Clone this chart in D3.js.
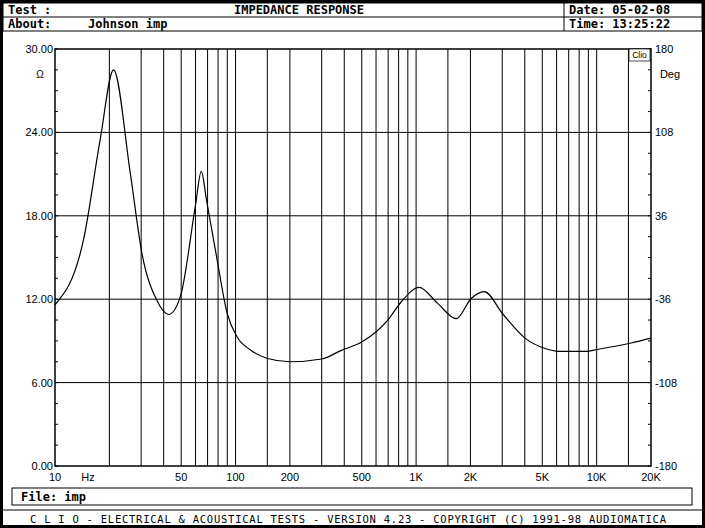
<!DOCTYPE html><html><head><meta charset="utf-8">
<script src="https://cdn.jsdelivr.net/npm/d3@7"></script>
<style>body{margin:0;background:#fff}</style></head><body>
<svg id="c" width="705" height="528"></svg>
<script>
const freq=[10,14.4,17.8,21.1,26.1,30.3,36.7,42.6,49.5,59.9,64.6,69.1,78.4,89.8,101.9,121,149,200,300,383,505,697,827,1039,1316,1668,2018,2380,3036,4010,5187,6160,8660,10200,15500,20000];
const ohm=[11.6,16.3,23.5,28.5,21.1,15.3,11.9,10.9,12.2,18.7,21.2,19.1,15.1,11.0,9.3,8.35,7.75,7.5,7.7,8.3,8.95,10.5,11.8,12.85,11.7,10.6,12.05,12.55,10.9,9.2,8.45,8.25,8.25,8.4,8.85,9.2];
const gridF=[20,30,40,50,60,70,80,90,100,150,200,300,400,500,600,700,800,900,1000,1500,2000,3000,4000,5000,6000,7000,8000,9000,10000,15000];
const xTicks=[[10,"10"],[50,"50"],[100,"100"],[200,"200"],[500,"500"],[1000,"1K"],[2000,"2K"],[5000,"5K"],[10000,"10K"],[20000,"20K"]];
const yTicks=[0,6,12,18,24,30];
const degTicks=[-180,-108,-36,36,108,180];
const svg=d3.select("#c");
const L=55,R=651,T=49,B=466;
const x=d3.scaleLog().domain([10,20000]).range([L,R]);
const y=d3.scaleLinear().domain([0,30]).range([B,T]);
const yd=d3.scaleLinear().domain([-180,180]).range([B,T]);
const mono="'DejaVu Sans Mono',monospace";
svg.append("rect").attr("x",1.5).attr("y",1.5).attr("width",702).attr("height",525).attr("fill","none").attr("stroke","#000").attr("stroke-width",3);
svg.append("rect").attr("x",3).attr("y",3).attr("width",699).attr("height",28).attr("fill","none").attr("stroke","#000");
svg.append("line").attr("x1",3).attr("x2",702).attr("y1",17).attr("y2",17).attr("stroke","#000");
svg.append("line").attr("x1",564).attr("x2",564).attr("y1",3).attr("y2",31).attr("stroke","#000");
svg.append("line").attr("x1",3).attr("x2",702).attr("y1",510).attr("y2",510).attr("stroke","#000");
svg.append("rect").attr("x",12).attr("y",488).attr("width",680).attr("height",17).attr("fill","none").attr("stroke","#000");
const t=(s,xx,yy,o={})=>svg.append("text").attr("x",xx).attr("y",yy).text(s).attr("font-family",o.f||mono).attr("font-size",o.s||12).attr("font-weight",o.w||"bold").attr("text-anchor",o.a||"start");
t("Test :",8,14);t("IMPEDANCE RESPONSE",299,14,{a:"middle"});t("Date: 05-02-08",569,14);
t("About:",8,28);t("Johnson imp",88,28);t("Time: 13:25:22",569,28);
t("File: imp",21,501);
t("C L I O  -  ELECTRICAL & ACOUSTICAL TESTS  -  VERSION 4.23  -  COPYRIGHT (C) 1991-98 AUDIOMATICA",30,523,{s:10.5,w:"normal"}).attr("textLength",636).attr("lengthAdjust","spacing");
gridF.forEach(f=>svg.append("line").attr("x1",x(f)).attr("x2",x(f)).attr("y1",T).attr("y2",B).attr("stroke","#000"));
yTicks.slice(1,5).forEach(v=>svg.append("line").attr("x1",L).attr("x2",R).attr("y1",y(v)).attr("y2",y(v)).attr("stroke","#000"));
svg.append("rect").attr("x",L).attr("y",T).attr("width",R-L).attr("height",B-T).attr("fill","none").attr("stroke","#000").attr("stroke-width",1.5);
d3.range(0,30.01,1.5).forEach(v=>{svg.append("line").attr("x1",L).attr("x2",L+3).attr("y1",y(v)).attr("y2",y(v)).attr("stroke","#000");
 svg.append("line").attr("x1",R-3).attr("x2",R).attr("y1",y(v)).attr("y2",y(v)).attr("stroke","#000");});
const sf="'Liberation Sans',Arial,sans-serif";
yTicks.forEach(v=>t(v.toFixed(2),L-2,y(v)+4,{a:"end",f:sf,s:11,w:"normal"}));
degTicks.forEach(v=>t(v,R+4,yd(v)+4,{f:sf,s:11,w:"normal"}));
xTicks.forEach(([f,s])=>t(s,x(f),481,{a:"middle",f:sf,s:11,w:"normal"}));
t("Hz",88,481,{a:"middle",f:sf,s:11,w:"normal"});
t("Ω",40,78,{a:"middle",f:sf,s:10,w:"normal"});
t("Deg",670,78,{a:"middle",f:sf,s:11,w:"normal"});
svg.append("rect").attr("x",629).attr("y",49).attr("width",21).attr("height",12).attr("fill","#fff").attr("stroke","#000").attr("stroke-width",0.7);
t("Clio",639.5,58,{a:"middle",f:sf,s:8.5,w:"normal"});
const line=d3.line().x((d,i)=>x(freq[i])).y(d=>y(d)).curve(d3.curveMonotoneX);
svg.append("path").attr("d",line(ohm)).attr("fill","none").attr("stroke","#000").attr("stroke-width",1.2);
</script></body></html>
